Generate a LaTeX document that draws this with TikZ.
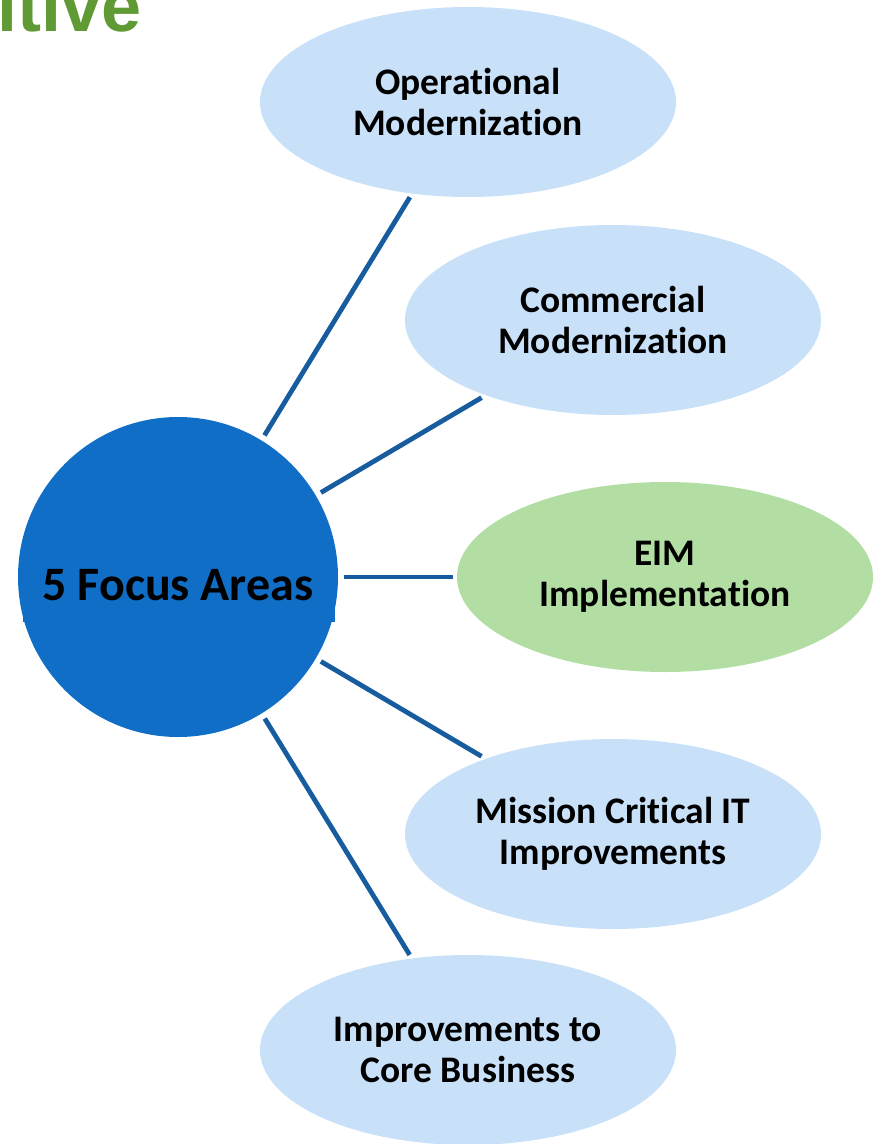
\documentclass[tikz,border=0pt]{standalone}
\usepackage{fontspec}
\setmainfont{Carlito}[Ligatures=NoCommon, RawFeature={-liga;-clig;-dlig}]
\newfontfamily\titlefont{Liberation Sans}
\usetikzlibrary{shapes.geometric}
\definecolor{lightblue}{HTML}{C8E1F9}
\definecolor{lightgreen}{HTML}{B2DEA3}
\definecolor{hubblue}{HTML}{106EC6}
\definecolor{spokeblue}{HTML}{165C9F}
\definecolor{titlegreen}{HTML}{5F9A34}
\tikzset{
  focus/.style={ellipse, fill=lightblue, minimum width=416pt, minimum height=190pt,
    inner sep=0pt, outer sep=4pt, align=center,
    font=\fontsize{37.5}{41}\selectfont\bfseries},
  hub/.style={circle, fill=hubblue, minimum size=320pt, inner sep=0pt, outer sep=6pt},
  spoke/.style={draw=spokeblue, line width=4.8pt},
  hublabel/.style={anchor=base, inner sep=0pt, font=\fontsize{48}{52}\selectfont\bfseries},
  titletext/.style={anchor=base east, inner sep=0pt, text=titlegreen,
    font=\titlefont\fontsize{72}{80}\selectfont\bfseries}
}
\begin{document}
\begin{tikzpicture}[x=1pt,y=-1pt]
\useasboundingbox (0,0) rectangle (874,1144);
\clip (0,0) rectangle (874,1144);
% title fragment
\node[titletext] (title) at (142,31) {ltive};
% hub
\node[hub] (hub) at (178,577) {};
\fill[hubblue] (23,548) rectangle (335,622);
\node[hublabel] (hubtext) at (178,600) {5 Focus Areas};
% focus areas
\node[focus] (e1) at (468,102) {Operational\\Modernization};
\node[focus] (e2) at (613,320) {Commercial\\Modernization};
\node[focus, fill=lightgreen] (e3) at (665,577) {EIM\\Implementation};
\node[focus] (e4) at (613,834) {Mission Critical IT\\Improvements};
\node[focus] (e5) at (468,1050) {Improvements to\\Core Business};
% spokes
\draw[spoke] (hub) -- (e1);
\draw[spoke] (hub) -- (e2);
\draw[spoke] (hub) -- (e3);
\draw[spoke] (hub) -- (e4);
\draw[spoke] (hub) -- (e5);
\end{tikzpicture}
\end{document}
